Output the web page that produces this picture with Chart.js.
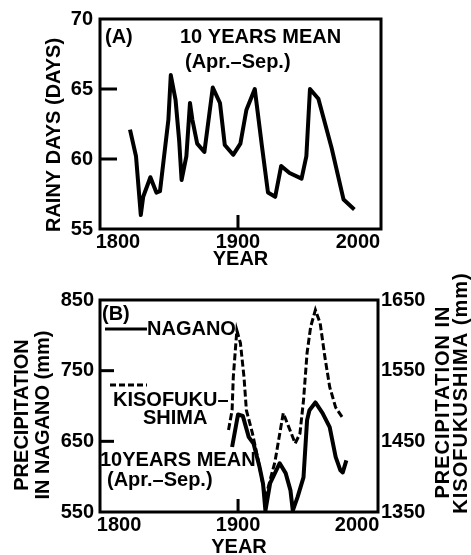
<!DOCTYPE html>
<html>
<head>
<meta charset="utf-8">
<script src="https://cdn.jsdelivr.net/npm/chart.js@4"></script>
<style>
  html, body { margin: 0; padding: 0; background: #fff; overflow: hidden; }
  #wrap { position: relative; width: 471px; height: 555px; overflow: hidden; }
  canvas { position: absolute; left: 0; }
</style>
</head>
<body>
<div id="wrap">
  <canvas id="chart-a" width="471" height="272" style="top:0"></canvas>
  <canvas id="chart-b" width="471" height="290" style="top:270px"></canvas>
</div>
<script>
// (A) rainy days, 10 years mean (Apr.-Sep.)
const yearsA = [1810, 1815, 1819, 1821, 1827, 1832, 1835, 1838, 1842, 1844,
                1848, 1851, 1853, 1857, 1860, 1862, 1866, 1872, 1879, 1885,
                1889, 1896, 1902, 1907, 1914, 1920, 1925, 1931, 1936, 1943,
                1953, 1957, 1960, 1967, 1978, 1988, 1997];
const rainyDays = [62.1, 60.2, 56.0, 57.3, 58.7, 57.6, 57.7, 59.9, 62.8, 66.0,
                   64.2, 61.3, 58.5, 60.2, 64.0, 62.8, 61.1, 60.5, 65.1, 64.0,
                   61.0, 60.3, 61.1, 63.5, 65.0, 60.9, 57.6, 57.3, 59.5, 59.0,
                   58.6, 60.2, 65.0, 64.3, 60.8, 57.1, 56.4];

// (B) precipitation, Nagano (left axis) and Kisofukushima (right axis)
const yearsNagano = [1895, 1900, 1904, 1909, 1913, 1918, 1921, 1923, 1927, 1935,
                     1940, 1944, 1946, 1950, 1955, 1958, 1960, 1965, 1971, 1977,
                     1982, 1986, 1988, 1991];
const nagano = [642, 688, 686, 656, 647, 614, 590, 552, 591, 619,
                605, 581, 552, 571, 599, 680, 694, 705, 690, 670,
                628, 609, 606, 623];
const yearsKiso = [1892, 1895, 1896, 1899, 1902, 1905, 1907, 1912, 1917, 1923,
                   1931, 1938, 1942, 1948, 1952, 1955, 1958, 1961, 1965, 1969,
                   1973, 1977, 1982, 1988];
const kiso = [1466, 1494, 1541, 1607, 1589, 1541, 1494, 1462, 1423, 1370,
              1421, 1490, 1473, 1447, 1461, 1508, 1575, 1612, 1636, 1617,
              1569, 1527, 1498, 1483];

const yearTicks = [1800, 1900, 2000];
const rainTicks = [55, 60, 65, 70];
const naganoTicks = [550, 650, 750, 850];
const kisoTicks = [1350, 1450, 1550, 1650];

const FAMILY = '"Liberation Sans", Arial, sans-serif';
const FONT = 'bold 20px ' + FAMILY;
Chart.defaults.font.family = FAMILY;
Chart.defaults.font.size = 20;
Chart.defaults.font.weight = 'bold';
Chart.defaults.color = '#000';

// box, inward tick marks, notes and vertical titles
const frame = {
  id: 'frame',
  afterDraw(chart, args, o) {
    const {ctx, chartArea: a, scales} = chart;
    ctx.save();
    ctx.strokeStyle = '#000';
    ctx.fillStyle = '#000';
    ctx.lineWidth = 3;
    ctx.strokeRect(a.left, a.top, a.right - a.left, a.bottom - a.top);

    (o.yTicks || []).forEach(v => {
      const y = scales.y.getPixelForValue(v);
      ctx.beginPath(); ctx.moveTo(a.left, y); ctx.lineTo(a.left + o.yTickLen, y); ctx.stroke();
    });
    (o.xTicks || []).forEach(v => {
      const x = scales.x.getPixelForValue(v);
      ctx.beginPath(); ctx.moveTo(x, a.bottom); ctx.lineTo(x, a.bottom - o.xTickLen); ctx.stroke();
    });

    (o.keys || []).forEach(k => {
      ctx.save();
      ctx.lineWidth = 3;
      ctx.setLineDash(k.dash || []);
      ctx.beginPath();
      ctx.moveTo(a.left + k.dx0, a.top + k.dy);
      ctx.lineTo(a.left + k.dx1, a.top + k.dy);
      ctx.stroke();
      ctx.restore();
    });

    ctx.textBaseline = 'middle';
    ctx.textAlign = 'left';
    (o.notes || []).forEach(n => {
      ctx.font = n.font || FONT;
      ctx.fillText(n.text, a.left + n.dx, a.top + n.dy);
    });

    (o.vTitles || []).forEach(t => {
      ctx.save();
      ctx.font = FONT;
      if (t.spacing) ctx.letterSpacing = t.spacing;
      ctx.translate(t.x, t.y);
      ctx.rotate(-Math.PI / 2);
      ctx.textAlign = 'center';
      ctx.fillText(t.text, 0, 0);
      ctx.restore();
    });
    ctx.restore();
  }
};

function pts(xs, ys) {
  return xs.map((x, i) => ({x: x, y: ys[i]}));
}

function fixedTicks(list) {
  return s => { s.ticks = list.map(v => ({value: v})); };
}

const plain = v => String(v);
const noGrid = {display: false, drawTicks: false};

new Chart(document.getElementById('chart-a'), {
  type: 'line',
  data: {
    datasets: [{
      data: pts(yearsA, rainyDays),
      borderColor: '#000',
      borderWidth: 4,
      pointRadius: 0,
      borderJoinStyle: 'round',
      tension: 0
    }]
  },
  options: {
    responsive: false,
    animation: false,
    layout: {padding: {top: 17, right: 90, left: 0, bottom: 0}},
    plugins: {
      legend: {display: false},
      tooltip: {enabled: false},
      frame: {
        yTicks: [60, 65], yTickLen: 17,
        xTicks: [1900], xTickLen: 14,
        notes: [
          {text: '(A)', dx: 5, dy: 18},
          {text: '10 YEARS MEAN', dx: 80, dy: 18},
          {text: '(Apr.\u2013Sep.)', dx: 85, dy: 43}
        ],
        vTitles: [{text: 'RAINY DAYS (DAYS)', x: 54, y: 135}]
      }
    },
    scales: {
      x: {
        type: 'linear', min: 1785, max: 2019.2,
        afterBuildTicks: fixedTicks(yearTicks),
        grid: noGrid, border: {display: false},
        ticks: {padding: 1, maxRotation: 0, autoSkip: false, callback: plain},
        title: {display: true, text: 'YEAR', padding: {top: 0, bottom: 1}},
        afterFit: s => { s.height = 43; }
      },
      y: {
        min: 55, max: 70,
        afterBuildTicks: fixedTicks(rainTicks),
        grid: noGrid, border: {display: false},
        ticks: {padding: 7, callback: plain},
        afterFit: s => { s.width = 100; }
      }
    }
  },
  plugins: [frame]
});

new Chart(document.getElementById('chart-b'), {
  type: 'line',
  data: {
    datasets: [{
      label: 'NAGANO',
      data: pts(yearsNagano, nagano),
      yAxisID: 'y',
      borderColor: '#000',
      borderWidth: 4,
      pointRadius: 0,
      borderJoinStyle: 'round',
      tension: 0
    }, {
      label: 'KISOFUKUSHIMA',
      data: pts(yearsKiso, kiso),
      yAxisID: 'y2',
      borderColor: '#000',
      borderWidth: 3,
      borderDash: [7, 3],
      pointRadius: 0,
      tension: 0
    }]
  },
  options: {
    responsive: false,
    animation: false,
    layout: {padding: {top: 30, right: 0, left: 0, bottom: 0}},
    plugins: {
      legend: {display: false},
      tooltip: {enabled: false},
      frame: {
        yTicks: [650, 750], yTickLen: 14,
        xTicks: [1900], xTickLen: 13,
        keys: [
          {dx0: 5, dx1: 47, dy: 29},
          {dx0: 10, dx1: 47, dy: 85, dash: [6, 3]}
        ],
        notes: [
          {text: '(B)', dx: 2, dy: 14},
          {text: 'NAGANO', dx: 47, dy: 29},
          {text: 'KISOFUKU\u2013', dx: 13, dy: 100},
          {text: 'SHIMA', dx: 43, dy: 118},
          {text: '10YEARS MEAN', dx: 0, dy: 160},
          {text: '(Apr.\u2013Sep.)', dx: 7, dy: 180}
        ],
        vTitles: [
          {text: 'PRECIPITATION', x: 22, y: 145},
          {text: 'IN NAGANO (mm)', x: 43, y: 145},
          {text: 'PRECIPITATION IN', x: 443, y: 132, spacing: '1px'},
          {text: 'KISOFUKUSHIMA (mm)', x: 461, y: 123, spacing: '1px'}
        ]
      }
    },
    scales: {
      x: {
        type: 'linear', min: 1784, max: 2017.6,
        afterBuildTicks: fixedTicks(yearTicks),
        grid: noGrid, border: {display: false},
        ticks: {padding: 1, maxRotation: 0, autoSkip: false, callback: plain},
        title: {display: true, text: 'YEAR', padding: {top: 0, bottom: 1}},
        afterFit: s => { s.height = 48; }
      },
      y: {
        position: 'left',
        min: 550, max: 850,
        afterBuildTicks: fixedTicks(naganoTicks),
        grid: noGrid, border: {display: false},
        ticks: {padding: 6, callback: plain},
        afterFit: s => { s.width = 100; }
      },
      y2: {
        position: 'right',
        min: 1350, max: 1650,
        afterBuildTicks: fixedTicks(kisoTicks),
        grid: noGrid, border: {display: false},
        ticks: {padding: 3, callback: plain},
        afterFit: s => { s.width = 93; }
      }
    }
  },
  plugins: [frame]
});
</script>
</body>
</html>
